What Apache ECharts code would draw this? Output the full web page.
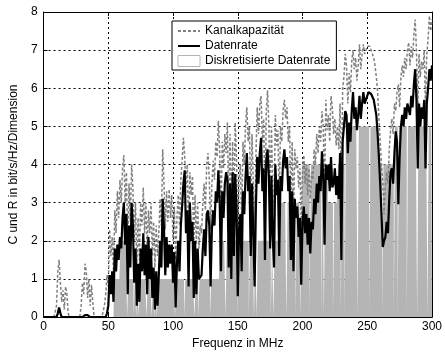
<!DOCTYPE html>
<html><head><meta charset="utf-8">
<script src="https://cdn.jsdelivr.net/npm/echarts@6/dist/echarts.min.js"></script>
<style>html,body{margin:0;padding:0;background:#fff}#c{width:445px;height:355px}</style>
</head><body><div id="c"></div>
<script>
// Frequency axis: one sample per MHz, 0..300
const xTicks = [0, 50, 100, 150, 200, 250, 300];
const yTicks = [0, 1, 2, 3, 4, 5, 6, 7, 8];
// Kanalkapazität (bit/s/Hz/Dimension), index = MHz
const kanalkapazitaet = [
0,0,0,0,0,0,0,0,0,0,
0.3,1.2,1.5,0.9,0.4,0.7,0.2,0.8,0.6,0.1,
0,0,0,0,0,0,0,0,0,0.3,
0.9,0.6,1.4,1.2,0.5,1.0,0.3,0.85,0.4,0,
0,0,0,0,0,0,0,0.3,0.6,1.1,
0.8,2.3,1.6,2.1,1.2,2.8,2.2,3.3,2.6,3.6,
3.0,3.9,4.25,3.0,3.8,1.6,3.5,2.5,4.0,3.4,
2.0,3.0,1.3,2.6,1.5,3.0,2.4,3.4,2.2,3.0,
1.7,2.8,2.2,3.0,1.6,2.5,1.3,2.4,1.6,2.2,
3.1,2.4,4.4,3.5,2.3,3.3,2.5,3.35,2.6,3.2,
2.0,2.9,1.5,2.6,3.2,2.4,3.6,4.1,4.7,4.2,
3.4,4.0,2.1,3.8,3.2,3.7,1.8,3.2,1.9,3.0,
1.8,2.4,2.2,3.0,3.5,2.8,4.0,4.3,3.6,2.3,
3.5,4.1,3.6,4.6,4.2,5.15,4.4,2.5,4.6,3.9,
4.8,4.3,5.1,2.6,4.8,2.3,4.6,2.9,5.1,4.2,
2.2,3.6,4.0,2.5,4.6,4.0,5.0,5.5,4.6,5.0,
2.9,4.8,3.5,2.3,4.2,5.5,4.8,5.6,5.8,4.6,
5.2,2.8,5.4,5.95,5.0,3.1,5.0,3.4,2.8,5.3,
4.5,4.9,2.9,5.0,4.6,5.4,5.7,5.2,5.5,4.6,
5.0,2.8,4.6,2.5,4.4,3.9,4.2,3.4,3.9,2.4,
3.8,4.25,3.5,4.0,3.2,3.9,3.1,3.8,3.6,4.4,
4.0,4.8,4.3,5.0,4.6,5.4,5.0,3.2,5.7,4.9,
5.3,4.6,5.8,5.5,4.8,5.2,4.5,5.0,4.4,5.6,
2.8,6.0,6.3,6.9,6.6,5.6,6.4,5.9,6.7,7.0,
6.5,6.8,6.2,6.6,7.15,6.5,6.9,7.15,6.9,7.0,
7.1,7.15,7.1,7.0,6.9,6.8,6.6,6.3,5.9,5.2,
4.6,4.0,3.5,2.7,3.4,3.8,3.5,4.4,4.9,5.2,
4.8,5.6,5.4,5.9,6.1,5.5,6.3,6.6,6.3,6.8,
6.5,7.0,7.2,6.6,7.1,6.8,7.4,7.8,7.0,5.4,
6.9,6.3,6.7,6.5,7.0,5.5,6.9,7.3,7.9,7.5,
7.8];
// Datenrate
const datenrate = [
0,0,0,0,0,0,0,0,0,0,
0,0.1,0.25,0.1,0,0,0,0,0,0,
0,0,0,0,0,0,0,0,0,0,
0,0,0.05,0.1,0.05,0,0,0,0,0,
0,0,0,0,0,0,0,0,0,0.1,
0.3,1.1,0.6,1.2,0.4,1.8,1.2,1.9,1.5,2.1,
1.8,2.6,3.0,1.9,2.7,0.6,2.4,1.3,3.0,2.4,
0.9,1.8,0.3,1.4,0.4,1.8,1.2,2.2,1.1,1.9,
0.6,2.1,1.0,1.8,0.5,1.3,0.2,1.2,0.3,1.1,
2.0,1.3,3.1,2.3,1.1,2.1,1.3,1.9,1.4,1.9,
0.9,1.7,0.25,1.4,2.0,1.2,2.4,2.9,3.5,3.85,
2.2,2.8,0.8,3.0,2.0,2.5,0.5,2.0,0.6,1.8,
1.0,1.0,1.1,1.8,2.3,1.6,2.7,2.8,2.4,0.8,
2.3,2.8,2.4,3.3,3.0,3.85,3.1,1.2,3.3,2.6,
3.5,3.8,3.6,1.3,3.5,1.0,3.8,1.6,3.75,2.9,
0.55,2.3,2.7,1.2,3.3,2.7,3.7,4.3,3.3,3.7,
1.6,3.5,2.2,0.8,2.9,4.2,3.5,4.3,4.7,3.3,
3.9,1.5,4.1,4.4,3.7,1.8,3.7,2.1,1.3,4.0,
3.2,3.6,1.6,3.7,3.3,4.1,4.4,3.9,4.2,3.3,
3.7,1.5,3.3,1.2,3.1,2.6,2.9,2.1,2.6,0.85,
2.5,2.9,2.2,2.7,1.9,2.6,1.67,2.5,2.3,3.1,
2.7,3.5,3.0,3.7,3.3,4.35,3.7,1.9,4.0,3.6,
4.0,3.3,4.2,3.4,3.5,3.9,3.2,3.7,3.1,4.3,
1.5,4.6,5.0,5.4,5.3,4.3,5.1,4.6,5.4,5.9,
5.2,5.5,4.9,5.3,5.8,5.2,5.6,5.9,5.6,5.7,
5.8,5.9,5.9,5.85,5.8,5.7,5.5,5.3,4.8,4.2,
3.5,2.7,1.84,2.0,2.1,2.5,2.2,3.1,3.8,3.9,
3.5,4.3,4.87,4.6,2.96,4.2,5.0,5.3,5.0,5.5,
5.2,5.6,5.6,5.3,5.8,5.5,6.1,6.5,5.7,3.9,
5.6,5.0,5.5,5.2,5.7,3.9,5.6,6.0,6.5,6.2,
6.6];
// Diskretisierte Datenrate
const diskretisiert = [
0,0,0,0,0,0,0,0,0,0,
0,0,0,0,0,0,0,0,0,0,
0,0,0,0,0,0,0,0,0,0,
0,0,0,0,0,0,0,0,0,0,
0,0,0,0,0,0,0,0,0,0,
0,0,0,0,0,1,1,1,1,1,
2,2,2,2,2,0,1,1,1,1,
0,1,0,1,0,1,1,1,1,1,
0,1,1,1,0,1,0,1,0,1,
1,1,1,1,1,1,1,1,1,1,
1,1,0,1,1,1,1,1,1,0,
1,1,1,1,1,1,1,0,1,1,
0,1,1,1,1,1,1,1,1,0,
1,1,1,1,1,1,2,2,2,2,
2,0,2,2,2,2,2,2,2,2,
0,2,2,2,2,2,2,2,2,0,
2,2,2,0,2,0,2,2,2,2,
2,2,2,2,2,2,0,2,0,2,
2,2,2,3,3,3,3,3,0,3,
3,3,3,3,3,0,3,3,3,0,
4,4,4,4,4,4,0,4,4,4,
4,4,4,4,4,0,4,0,4,4,
3,3,3,3,0,3,3,3,4,4,
0,4,4,0,5,5,5,5,5,5,
5,5,5,0,5,5,5,5,5,5,
5,5,0,5,5,5,5,5,5,5,
4,4,0,4,4,4,4,4,4,4,
4,0,5,5,0,5,5,5,5,5,
5,0,5,5,5,5,5,5,5,0,
5,5,5,5,5,5,5,0,5,5,
5];

const pairs = a => a.map((v, i) => [i, v]);
const FONT = 'Liberation Sans';
const gridDash = { color: '#000', width: 1, type: [2, 3] };

const chart = echarts.init(document.getElementById('c'), null, { renderer: 'canvas' });
chart.setOption({
  animation: false,
  backgroundColor: '#fff',
  textStyle: { fontFamily: FONT },
  grid: { left: 41, right: 10, top: 12, bottom: 34, show: false },
  legend: {
    orient: 'vertical', left: 172, top: 21,
    padding: [4, 6, 3, 5],
    itemWidth: 22, itemHeight: 11, itemGap: 3, itemTextGap: 8,
    backgroundColor: '#fff', borderColor: '#000', borderWidth: 1,
    textStyle: { fontFamily: FONT, fontSize: 12, color: '#000' },
    data: [
      { name: 'Kanalkapazität', itemStyle: { opacity: 0 } },
      { name: 'Datenrate', itemStyle: { opacity: 0 } },
      { name: 'Diskretisierte Datenrate', icon: 'rect', itemStyle: { color: '#fff', borderColor: '#b4b4b4', borderWidth: 1 } }
    ]
  },
  xAxis: [{
    type: 'value', min: xTicks[0], max: xTicks[xTicks.length - 1], interval: 50, position: 'bottom',
    axisLine: { show: true, onZero: false, lineStyle: { color: '#000', width: 1 } },
    axisTick: { show: true, inside: true, length: 4, lineStyle: { color: '#000' } },
    axisLabel: { color: '#000', fontSize: 12, fontFamily: FONT, margin: 4 },
    splitLine: { show: true, lineStyle: gridDash },
    name: 'Frequenz in MHz', nameLocation: 'middle', nameGap: 20,
    nameTextStyle: { color: '#000', fontSize: 12, fontFamily: FONT }
  }, {
    type: 'value', min: 0, max: 300, interval: 50, position: 'top',
    axisLine: { show: true, onZero: false, lineStyle: { color: '#000', width: 1 } },
    axisTick: { show: true, inside: true, length: 4, lineStyle: { color: '#000' } },
    axisLabel: { show: false }, splitLine: { show: false }
  }],
  yAxis: [{
    type: 'value', min: yTicks[0], max: yTicks[yTicks.length - 1], interval: 1, position: 'left',
    axisLine: { show: true, onZero: false, lineStyle: { color: '#000', width: 1 } },
    axisTick: { show: true, inside: true, length: 4, lineStyle: { color: '#000' } },
    axisLabel: { color: '#000', fontSize: 12, fontFamily: FONT, margin: 6 },
    splitLine: { show: true, lineStyle: gridDash },
    name: 'C und R in bit/s/Hz/Dimension', nameLocation: 'middle', nameGap: 11, nameRotate: 90,
    nameTextStyle: { color: '#000', fontSize: 12, fontFamily: FONT }
  }, {
    type: 'value', min: 0, max: 8, interval: 1, position: 'right',
    axisLine: { show: true, onZero: false, lineStyle: { color: '#000', width: 1 } },
    axisTick: { show: true, inside: true, length: 4, lineStyle: { color: '#000' } },
    axisLabel: { show: false }, splitLine: { show: false }
  }],
  series: [
    {
      name: 'Kanalkapazität', type: 'line', z: 3, symbol: 'none', showSymbol: false,
      data: pairs(kanalkapazitaet),
      lineStyle: { color: '#808080', width: 1.5, type: [3, 2] },
      itemStyle: { color: '#808080' }
    },
    {
      name: 'Datenrate', type: 'line', z: 4, symbol: 'none', showSymbol: false,
      data: pairs(datenrate),
      lineStyle: { color: '#000', width: 2.2 },
      itemStyle: { color: '#000' }
    },
    {
      name: 'Diskretisierte Datenrate', type: 'line', z: 2, step: 'middle', symbol: 'none', showSymbol: false,
      data: pairs(diskretisiert),
      lineStyle: { width: 0, color: '#b4b4b4' },
      areaStyle: { color: '#b4b4b4', opacity: 1 },
      itemStyle: { color: '#b4b4b4' }
    }
  ]
});
</script></body></html>
